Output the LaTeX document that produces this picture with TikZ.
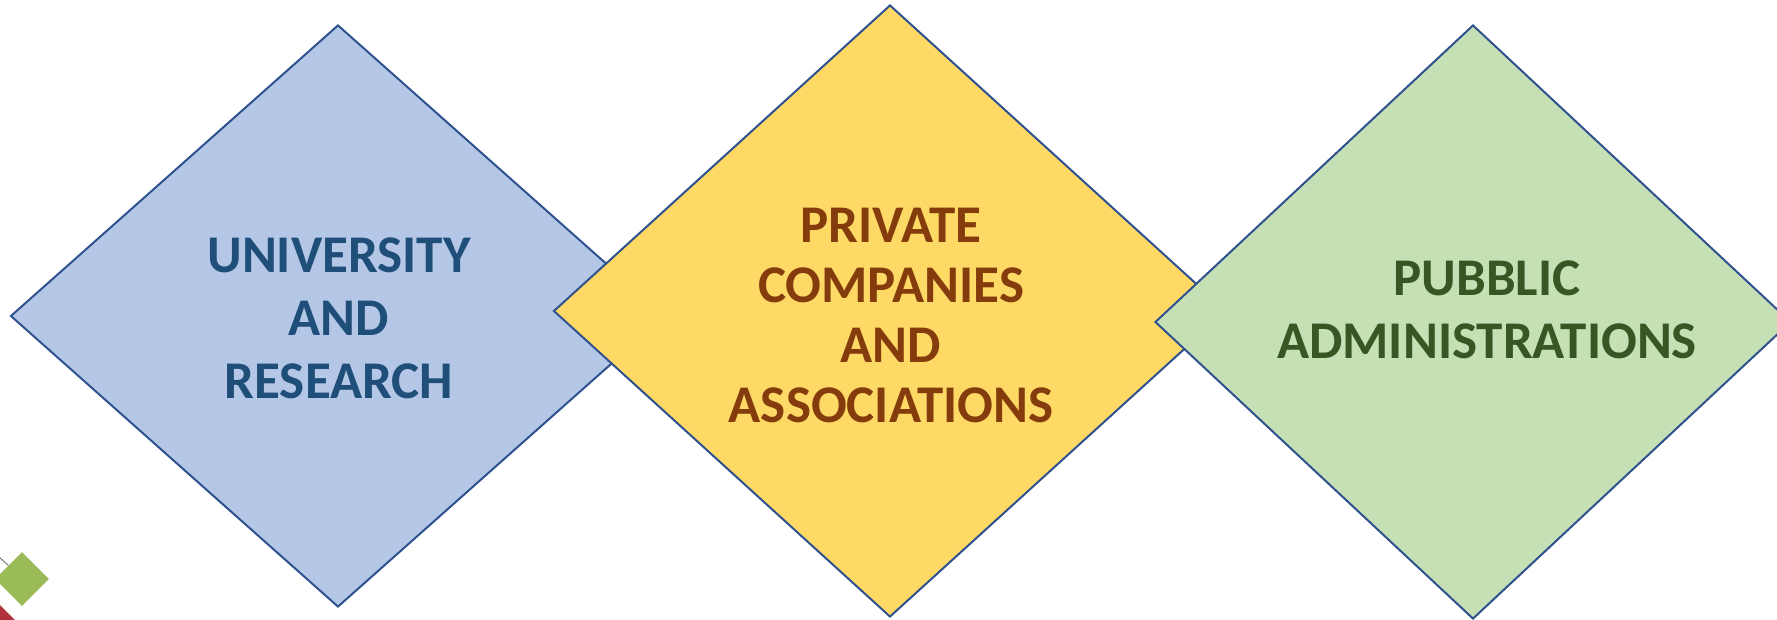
\documentclass[tikz,border=0pt]{standalone}
\usepackage{fontspec}
\setmainfont{Carlito}
\usetikzlibrary{shapes.geometric}
\definecolor{edge}{HTML}{2F528F}
\definecolor{bluefill}{HTML}{B4C7E7}
\definecolor{yellowfill}{HTML}{FFD966}
\definecolor{greenfill}{HTML}{C5E0B4}
\definecolor{bluetext}{HTML}{1F4E79}
\definecolor{browntext}{HTML}{843C0C}
\definecolor{greentext}{HTML}{375623}
\definecolor{smallgreen}{HTML}{9BBB59}
\definecolor{smallred}{HTML}{B0303C}
\definecolor{lgrey}{HTML}{7F7F7F}

\begin{document}
\begin{tikzpicture}[x=1pt,y=-1pt]
    \tikzset{%
      sector/.style={diamond, draw=edge, line width=2pt, inner sep=0pt},
      label/.style={align=center, font=\bfseries\fontsize{53}{63}\selectfont},
      mini/.style={diamond, inner sep=0pt, minimum width=54pt,
        minimum height=54pt},
    }
    \useasboundingbox (0,0) rectangle (1777,620);

    % three sectors, drawn left to right so each covers the last
    \node[sector, fill=bluefill, minimum width=655pt, minimum height=582pt]
      (Uni) at (338,316) {};
    \node[label, bluetext] (UniT) at (339,318)
      {UNIVERSITY\\AND\\RESEARCH};

    \node[sector, fill=yellowfill, minimum width=673pt, minimum height=612pt]
      (Priv) at (890,311) {};
    \node[label, browntext, font=\bfseries\fontsize{53}{60}\selectfont]
      (PrivT) at (891,315) {PRIVATE\\COMPANIES\\AND\\ASSOCIATIONS};

    \node[sector, fill=greenfill, minimum width=636pt, minimum height=594pt]
      (Pub) at (1473,322) {};
    \node[label, greentext] (PubT) at (1487,310)
      {PUBBLIC\\ADMINISTRATIONS};

    % small marks in the corner
    \node[mini, fill=smallgreen] (SG) at (22,579) {};
    \node[mini, fill=smallred, minimum width=50pt, minimum height=50pt]
      (SR) at (-5,625) {};
    \coordinate (G0) at (-20,540);
    \draw [lgrey, line width=1pt] (G0) -- (SG.north west);
\end{tikzpicture}
\end{document}
